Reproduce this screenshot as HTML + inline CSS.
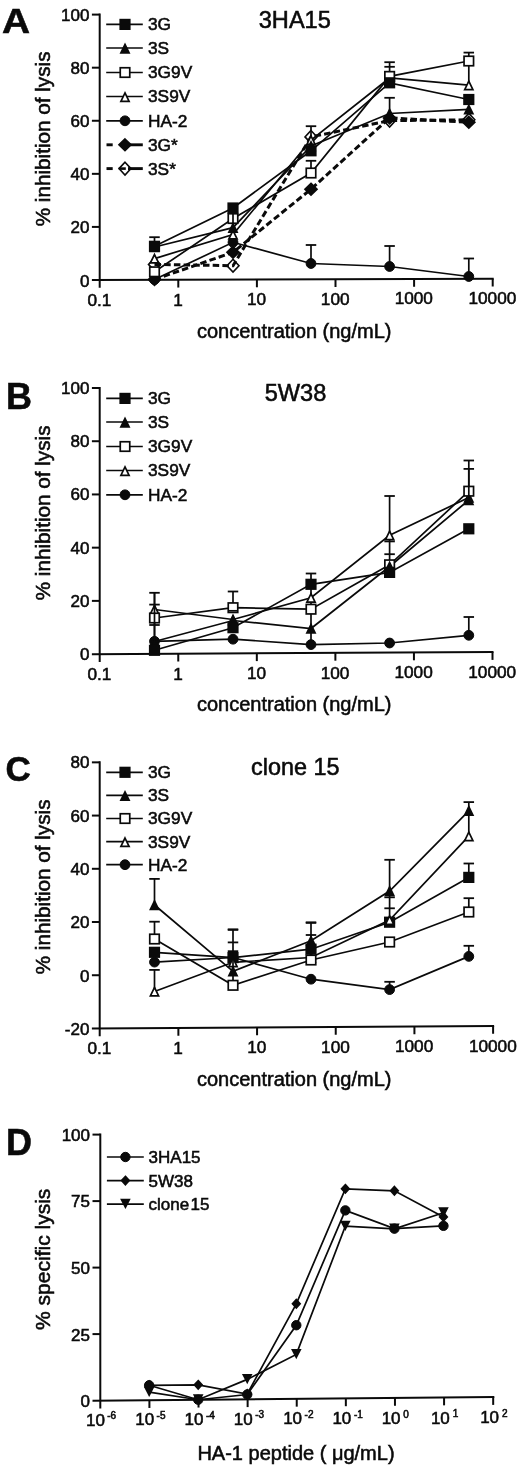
<!DOCTYPE html>
<html><head><meta charset="utf-8"><title>Figure</title>
<style>
html,body{margin:0;padding:0;background:#fff;}
body{width:520px;height:1467px;overflow:hidden;font-family:"Liberation Sans", sans-serif;}
svg text{font-variant-ligatures:none;font-family:"Liberation Sans", sans-serif;stroke:#0a0a0a;stroke-width:0.55px;}
</style></head><body>
<svg width="520" height="1467" viewBox="0 0 520 1467" font-family='"Liberation Sans", sans-serif' fill="#0a0a0a" style="display:block;filter:blur(0.45px)">
<rect width="520" height="1467" fill="#fff"/>
<g id="pA"><line x1="99.7" y1="13.60" x2="99.7" y2="287.80" stroke="#0a0a0a" stroke-width="2.0"/><line x1="91.90" y1="280.03" x2="493.70" y2="278.70" stroke="#0a0a0a" stroke-width="2.0"/><text x="89.40" y="286.70" font-size="17" text-anchor="end" font-weight="normal" >0</text><line x1="91.90" y1="226.92" x2="99.7" y2="226.92" stroke="#0a0a0a" stroke-width="2.0"/><text x="89.40" y="233.46" font-size="17" text-anchor="end" font-weight="normal" >20</text><line x1="91.90" y1="173.84" x2="99.7" y2="173.84" stroke="#0a0a0a" stroke-width="2.0"/><text x="89.40" y="180.22" font-size="17" text-anchor="end" font-weight="normal" >40</text><line x1="91.90" y1="120.76" x2="99.7" y2="120.76" stroke="#0a0a0a" stroke-width="2.0"/><text x="89.40" y="126.98" font-size="17" text-anchor="end" font-weight="normal" >60</text><line x1="91.90" y1="67.68" x2="99.7" y2="67.68" stroke="#0a0a0a" stroke-width="2.0"/><text x="89.40" y="73.74" font-size="17" text-anchor="end" font-weight="normal" >80</text><line x1="91.90" y1="14.60" x2="99.7" y2="14.60" stroke="#0a0a0a" stroke-width="2.0"/><text x="89.40" y="20.50" font-size="17" text-anchor="end" font-weight="normal" >100</text><text x="99.40" y="306.10" font-size="17.2" text-anchor="middle" font-weight="normal" >0.1</text><line x1="178.30" y1="279.74" x2="178.30" y2="287.54" stroke="#0a0a0a" stroke-width="2.0"/><text x="178.00" y="305.67" font-size="17.2" text-anchor="middle" font-weight="normal" >1</text><line x1="256.90" y1="279.48" x2="256.90" y2="287.28" stroke="#0a0a0a" stroke-width="2.0"/><text x="256.60" y="305.24" font-size="17.2" text-anchor="middle" font-weight="normal" >10</text><line x1="335.50" y1="279.22" x2="335.50" y2="287.02" stroke="#0a0a0a" stroke-width="2.0"/><text x="335.20" y="304.80" font-size="17.2" text-anchor="middle" font-weight="normal" >100</text><line x1="414.10" y1="278.96" x2="414.10" y2="286.76" stroke="#0a0a0a" stroke-width="2.0"/><text x="413.80" y="304.37" font-size="17.2" text-anchor="middle" font-weight="normal" >1000</text><line x1="492.70" y1="278.70" x2="492.70" y2="286.50" stroke="#0a0a0a" stroke-width="2.0"/><text x="492.40" y="303.94" font-size="17.2" text-anchor="middle" font-weight="normal" >10000</text><line x1="154.50" y1="245.60" x2="154.50" y2="237.20" stroke="#0a0a0a" stroke-width="1.7"/><line x1="149.25" y1="237.20" x2="159.75" y2="237.20" stroke="#0a0a0a" stroke-width="1.8"/><line x1="311.00" y1="140.00" x2="311.00" y2="126.20" stroke="#0a0a0a" stroke-width="1.7"/><line x1="305.75" y1="126.20" x2="316.25" y2="126.20" stroke="#0a0a0a" stroke-width="1.8"/><line x1="311.00" y1="173.00" x2="311.00" y2="160.80" stroke="#0a0a0a" stroke-width="1.7"/><line x1="305.75" y1="160.80" x2="316.25" y2="160.80" stroke="#0a0a0a" stroke-width="1.8"/><line x1="389.60" y1="82.50" x2="389.60" y2="62.20" stroke="#0a0a0a" stroke-width="1.7"/><line x1="384.35" y1="62.20" x2="394.85" y2="62.20" stroke="#0a0a0a" stroke-width="1.8"/><line x1="384.35" y1="66.80" x2="394.85" y2="66.80" stroke="#0a0a0a" stroke-width="1.8"/><line x1="389.60" y1="113.50" x2="389.60" y2="97.80" stroke="#0a0a0a" stroke-width="1.7"/><line x1="384.35" y1="97.80" x2="394.85" y2="97.80" stroke="#0a0a0a" stroke-width="1.8"/><line x1="468.80" y1="85.20" x2="468.80" y2="52.60" stroke="#0a0a0a" stroke-width="1.7"/><line x1="463.55" y1="52.60" x2="474.05" y2="52.60" stroke="#0a0a0a" stroke-width="1.8"/><line x1="311.00" y1="263.50" x2="311.00" y2="245.00" stroke="#0a0a0a" stroke-width="1.7"/><line x1="305.75" y1="245.00" x2="316.25" y2="245.00" stroke="#0a0a0a" stroke-width="1.8"/><line x1="389.60" y1="266.50" x2="389.60" y2="246.00" stroke="#0a0a0a" stroke-width="1.7"/><line x1="384.35" y1="246.00" x2="394.85" y2="246.00" stroke="#0a0a0a" stroke-width="1.8"/><line x1="468.80" y1="276.50" x2="468.80" y2="258.50" stroke="#0a0a0a" stroke-width="1.7"/><line x1="463.55" y1="258.50" x2="474.05" y2="258.50" stroke="#0a0a0a" stroke-width="1.8"/><polyline points="154.50,264.40 233.00,265.70 311.00,136.90 389.60,120.60 468.80,119.80" fill="none" stroke="#0a0a0a" stroke-width="3.0" stroke-dasharray="6.5 3.2"/><polyline points="154.50,279.50 233.00,252.30 311.00,189.20 389.60,117.90 468.80,122.30" fill="none" stroke="#0a0a0a" stroke-width="3.0" stroke-dasharray="6.5 3.2"/><polyline points="154.50,279.60 233.00,242.30 311.00,263.50 389.60,266.50 468.80,276.50" fill="none" stroke="#0a0a0a" stroke-width="1.7"/><polyline points="154.50,258.60 233.00,234.60 311.00,140.00 389.60,78.00 468.80,85.20" fill="none" stroke="#0a0a0a" stroke-width="1.7"/><polyline points="154.50,271.80 233.00,218.50 311.00,173.00 389.60,76.40 468.80,61.00" fill="none" stroke="#0a0a0a" stroke-width="1.7"/><polyline points="154.50,247.00 233.00,227.70 311.00,146.00 389.60,113.50 468.80,109.40" fill="none" stroke="#0a0a0a" stroke-width="1.7"/><polyline points="154.50,246.30 233.00,208.00 311.00,150.80 389.60,82.80 468.80,99.50" fill="none" stroke="#0a0a0a" stroke-width="1.7"/><polygon points="154.50,258.00 160.50,264.40 154.50,270.80 148.50,264.40" fill="none" stroke="#0a0a0a" stroke-width="1.6"/><polygon points="233.00,259.30 239.00,265.70 233.00,272.10 227.00,265.70" fill="none" stroke="#0a0a0a" stroke-width="1.6"/><polygon points="311.00,130.50 317.00,136.90 311.00,143.30 305.00,136.90" fill="none" stroke="#0a0a0a" stroke-width="1.6"/><polygon points="389.60,114.20 395.60,120.60 389.60,127.00 383.60,120.60" fill="none" stroke="#0a0a0a" stroke-width="1.6"/><polygon points="468.80,113.40 474.80,119.80 468.80,126.20 462.80,119.80" fill="none" stroke="#0a0a0a" stroke-width="1.6"/><polygon points="154.50,273.70 160.50,279.50 154.50,285.30 148.50,279.50" fill="#0a0a0a" stroke="#0a0a0a" stroke-width="1.7"/><polygon points="233.00,246.50 239.00,252.30 233.00,258.10 227.00,252.30" fill="#0a0a0a" stroke="#0a0a0a" stroke-width="1.7"/><polygon points="311.00,183.40 317.00,189.20 311.00,195.00 305.00,189.20" fill="#0a0a0a" stroke="#0a0a0a" stroke-width="1.7"/><polygon points="389.60,112.10 395.60,117.90 389.60,123.70 383.60,117.90" fill="#0a0a0a" stroke="#0a0a0a" stroke-width="1.7"/><polygon points="468.80,116.50 474.80,122.30 468.80,128.10 462.80,122.30" fill="#0a0a0a" stroke="#0a0a0a" stroke-width="1.7"/><circle cx="154.50" cy="279.60" r="4.9" fill="#0a0a0a" stroke="#0a0a0a" stroke-width="1"/><circle cx="233.00" cy="242.30" r="4.9" fill="#0a0a0a" stroke="#0a0a0a" stroke-width="1"/><circle cx="311.00" cy="263.50" r="4.9" fill="#0a0a0a" stroke="#0a0a0a" stroke-width="1"/><circle cx="389.60" cy="266.50" r="4.9" fill="#0a0a0a" stroke="#0a0a0a" stroke-width="1"/><circle cx="468.80" cy="276.50" r="4.9" fill="#0a0a0a" stroke="#0a0a0a" stroke-width="1"/><polygon points="154.50,254.54 158.60,262.94 150.40,262.94" fill="#fff" stroke="#0a0a0a" stroke-width="1.7" stroke-linejoin="miter"/><polygon points="233.00,230.54 237.10,238.94 228.90,238.94" fill="#fff" stroke="#0a0a0a" stroke-width="1.7" stroke-linejoin="miter"/><polygon points="311.00,135.94 315.10,144.34 306.90,144.34" fill="#fff" stroke="#0a0a0a" stroke-width="1.7" stroke-linejoin="miter"/><polygon points="389.60,73.94 393.70,82.34 385.50,82.34" fill="#fff" stroke="#0a0a0a" stroke-width="1.7" stroke-linejoin="miter"/><polygon points="468.80,81.14 472.90,89.54 464.70,89.54" fill="#fff" stroke="#0a0a0a" stroke-width="1.7" stroke-linejoin="miter"/><rect x="149.75" y="267.05" width="9.50" height="9.50" fill="#fff" stroke="#0a0a0a" stroke-width="1.7"/><rect x="228.25" y="213.75" width="9.50" height="9.50" fill="#fff" stroke="#0a0a0a" stroke-width="1.7"/><rect x="306.25" y="168.25" width="9.50" height="9.50" fill="#fff" stroke="#0a0a0a" stroke-width="1.7"/><rect x="384.85" y="71.65" width="9.50" height="9.50" fill="#fff" stroke="#0a0a0a" stroke-width="1.7"/><rect x="464.05" y="56.25" width="9.50" height="9.50" fill="#fff" stroke="#0a0a0a" stroke-width="1.7"/><polygon points="154.50,242.94 158.60,251.34 150.40,251.34" fill="#0a0a0a" stroke="#0a0a0a" stroke-width="1.7" stroke-linejoin="miter"/><polygon points="233.00,223.64 237.10,232.04 228.90,232.04" fill="#0a0a0a" stroke="#0a0a0a" stroke-width="1.7" stroke-linejoin="miter"/><polygon points="311.00,141.94 315.10,150.34 306.90,150.34" fill="#0a0a0a" stroke="#0a0a0a" stroke-width="1.7" stroke-linejoin="miter"/><polygon points="389.60,109.44 393.70,117.84 385.50,117.84" fill="#0a0a0a" stroke="#0a0a0a" stroke-width="1.7" stroke-linejoin="miter"/><polygon points="468.80,105.34 472.90,113.74 464.70,113.74" fill="#0a0a0a" stroke="#0a0a0a" stroke-width="1.7" stroke-linejoin="miter"/><rect x="149.75" y="241.55" width="9.50" height="9.50" fill="#0a0a0a" stroke="#0a0a0a" stroke-width="1.7"/><rect x="228.25" y="203.25" width="9.50" height="9.50" fill="#0a0a0a" stroke="#0a0a0a" stroke-width="1.7"/><rect x="306.25" y="146.05" width="9.50" height="9.50" fill="#0a0a0a" stroke="#0a0a0a" stroke-width="1.7"/><rect x="384.85" y="78.05" width="9.50" height="9.50" fill="#0a0a0a" stroke="#0a0a0a" stroke-width="1.7"/><rect x="464.05" y="94.75" width="9.50" height="9.50" fill="#0a0a0a" stroke="#0a0a0a" stroke-width="1.7"/><line x1="233.00" y1="214.00" x2="233.00" y2="223.00" stroke="#0a0a0a" stroke-width="1.7"/><line x1="106.2" y1="24.4" x2="142.8" y2="24.4" stroke="#0a0a0a" stroke-width="1.7"/><rect x="120.25" y="19.65" width="9.50" height="9.50" fill="#0a0a0a" stroke="#0a0a0a" stroke-width="1.7"/><text x="148.00" y="30.30" font-size="17.3" text-anchor="start" font-weight="normal" >3G</text><line x1="106.2" y1="48.0" x2="142.8" y2="48.0" stroke="#0a0a0a" stroke-width="1.7"/><polygon points="125.00,44.44 129.10,52.84 120.90,52.84" fill="#0a0a0a" stroke="#0a0a0a" stroke-width="1.7" stroke-linejoin="miter"/><text x="148.00" y="53.90" font-size="17.3" text-anchor="start" font-weight="normal" >3S</text><line x1="106.2" y1="72.5" x2="142.8" y2="72.5" stroke="#0a0a0a" stroke-width="1.7"/><rect x="120.25" y="67.75" width="9.50" height="9.50" fill="#fff" stroke="#0a0a0a" stroke-width="1.7"/><text x="148.00" y="78.40" font-size="17.3" text-anchor="start" font-weight="normal" >3G9V</text><line x1="106.2" y1="96.5" x2="142.8" y2="96.5" stroke="#0a0a0a" stroke-width="1.7"/><polygon points="125.00,92.94 129.10,101.34 120.90,101.34" fill="#fff" stroke="#0a0a0a" stroke-width="1.7" stroke-linejoin="miter"/><text x="148.00" y="102.40" font-size="17.3" text-anchor="start" font-weight="normal" >3S9V</text><line x1="106.2" y1="120.8" x2="142.8" y2="120.8" stroke="#0a0a0a" stroke-width="1.7"/><circle cx="125.00" cy="120.80" r="4.9" fill="#0a0a0a" stroke="#0a0a0a" stroke-width="1"/><text x="148.00" y="126.70" font-size="17.3" text-anchor="start" font-weight="normal" >HA-2</text><line x1="106.5" y1="144.8" x2="112.7" y2="144.8" stroke="#0a0a0a" stroke-width="2.9"/><line x1="128" y1="144.8" x2="142.8" y2="144.8" stroke="#0a0a0a" stroke-width="2.9"/><polygon points="125.00,139.00 131.00,144.80 125.00,150.60 119.00,144.80" fill="#0a0a0a" stroke="#0a0a0a" stroke-width="1.7"/><text x="148.00" y="150.70" font-size="17.3" text-anchor="start" font-weight="normal" >3G*</text><line x1="106.5" y1="168.6" x2="112.7" y2="168.6" stroke="#0a0a0a" stroke-width="2.9"/><line x1="128" y1="168.6" x2="142.8" y2="168.6" stroke="#0a0a0a" stroke-width="2.9"/><polygon points="125.00,162.20 131.00,168.60 125.00,175.00 119.00,168.60" fill="none" stroke="#0a0a0a" stroke-width="1.6"/><line x1="118.8" y1="168.6" x2="125.8" y2="168.6" stroke="#0a0a0a" stroke-width="2.6"/><text x="148.00" y="174.50" font-size="17.3" text-anchor="start" font-weight="normal" >3S*</text><text transform="translate(1.9,33.2) scale(1.08,1)" font-size="36" font-weight="bold">A</text><text x="294.80" y="27.60" font-size="23.6" text-anchor="middle" font-weight="normal" >3HA15</text><text x="294.20" y="338.00" font-size="20" text-anchor="middle" font-weight="normal" >concentration (ng/mL)</text><text transform="translate(49.9,138.9) rotate(-90)" font-size="20.7" text-anchor="middle">% inhibition of lysis</text></g>
<g id="pB"><line x1="99.7" y1="387.00" x2="99.7" y2="661.90" stroke="#0a0a0a" stroke-width="2.0"/><line x1="91.90" y1="654.14" x2="493.50" y2="652.10" stroke="#0a0a0a" stroke-width="2.0"/><text x="89.40" y="660.40" font-size="17" text-anchor="end" font-weight="normal" >0</text><line x1="91.90" y1="600.88" x2="99.7" y2="600.88" stroke="#0a0a0a" stroke-width="2.0"/><text x="89.40" y="607.02" font-size="17" text-anchor="end" font-weight="normal" >20</text><line x1="91.90" y1="547.66" x2="99.7" y2="547.66" stroke="#0a0a0a" stroke-width="2.0"/><text x="89.40" y="553.64" font-size="17" text-anchor="end" font-weight="normal" >40</text><line x1="91.90" y1="494.44" x2="99.7" y2="494.44" stroke="#0a0a0a" stroke-width="2.0"/><text x="89.40" y="500.26" font-size="17" text-anchor="end" font-weight="normal" >60</text><line x1="91.90" y1="441.22" x2="99.7" y2="441.22" stroke="#0a0a0a" stroke-width="2.0"/><text x="89.40" y="446.88" font-size="17" text-anchor="end" font-weight="normal" >80</text><line x1="91.90" y1="388.00" x2="99.7" y2="388.00" stroke="#0a0a0a" stroke-width="2.0"/><text x="89.40" y="393.50" font-size="17" text-anchor="end" font-weight="normal" >100</text><text x="99.40" y="680.20" font-size="17.2" text-anchor="middle" font-weight="normal" >0.1</text><line x1="178.26" y1="653.70" x2="178.26" y2="661.50" stroke="#0a0a0a" stroke-width="2.0"/><text x="177.96" y="679.77" font-size="17.2" text-anchor="middle" font-weight="normal" >1</text><line x1="256.82" y1="653.30" x2="256.82" y2="661.10" stroke="#0a0a0a" stroke-width="2.0"/><text x="256.52" y="679.34" font-size="17.2" text-anchor="middle" font-weight="normal" >10</text><line x1="335.38" y1="652.90" x2="335.38" y2="660.70" stroke="#0a0a0a" stroke-width="2.0"/><text x="335.08" y="678.90" font-size="17.2" text-anchor="middle" font-weight="normal" >100</text><line x1="413.94" y1="652.50" x2="413.94" y2="660.30" stroke="#0a0a0a" stroke-width="2.0"/><text x="413.64" y="678.47" font-size="17.2" text-anchor="middle" font-weight="normal" >1000</text><line x1="492.50" y1="652.10" x2="492.50" y2="659.90" stroke="#0a0a0a" stroke-width="2.0"/><text x="492.20" y="678.04" font-size="17.2" text-anchor="middle" font-weight="normal" >10000</text><line x1="154.50" y1="641.00" x2="154.50" y2="592.80" stroke="#0a0a0a" stroke-width="1.7"/><line x1="149.25" y1="592.80" x2="159.75" y2="592.80" stroke="#0a0a0a" stroke-width="1.8"/><line x1="149.25" y1="604.60" x2="159.75" y2="604.60" stroke="#0a0a0a" stroke-width="1.8"/><line x1="149.25" y1="625.00" x2="159.75" y2="625.00" stroke="#0a0a0a" stroke-width="1.8"/><line x1="233.00" y1="607.70" x2="233.00" y2="591.50" stroke="#0a0a0a" stroke-width="1.7"/><line x1="227.75" y1="591.50" x2="238.25" y2="591.50" stroke="#0a0a0a" stroke-width="1.8"/><line x1="311.00" y1="644.60" x2="311.00" y2="573.50" stroke="#0a0a0a" stroke-width="1.7"/><line x1="305.75" y1="573.50" x2="316.25" y2="573.50" stroke="#0a0a0a" stroke-width="1.8"/><line x1="389.60" y1="568.00" x2="389.60" y2="496.00" stroke="#0a0a0a" stroke-width="1.7"/><line x1="384.35" y1="496.00" x2="394.85" y2="496.00" stroke="#0a0a0a" stroke-width="1.8"/><line x1="384.35" y1="541.40" x2="394.85" y2="541.40" stroke="#0a0a0a" stroke-width="1.8"/><line x1="384.35" y1="554.20" x2="394.85" y2="554.20" stroke="#0a0a0a" stroke-width="1.8"/><line x1="468.80" y1="500.00" x2="468.80" y2="460.50" stroke="#0a0a0a" stroke-width="1.7"/><line x1="463.55" y1="460.50" x2="474.05" y2="460.50" stroke="#0a0a0a" stroke-width="1.8"/><line x1="463.55" y1="468.90" x2="474.05" y2="468.90" stroke="#0a0a0a" stroke-width="1.8"/><line x1="468.80" y1="635.30" x2="468.80" y2="617.00" stroke="#0a0a0a" stroke-width="1.7"/><line x1="463.55" y1="617.00" x2="474.05" y2="617.00" stroke="#0a0a0a" stroke-width="1.8"/><polyline points="154.50,641.30 233.00,639.20 311.00,644.60 389.60,643.00 468.80,635.30" fill="none" stroke="#0a0a0a" stroke-width="1.7"/><polyline points="154.50,609.50 233.00,619.50 311.00,597.70 389.60,535.30 468.80,497.50" fill="none" stroke="#0a0a0a" stroke-width="1.7"/><polyline points="154.50,618.00 233.00,607.70 311.00,609.20 389.60,564.80 468.80,491.20" fill="none" stroke="#0a0a0a" stroke-width="1.7"/><polyline points="154.50,641.50 233.00,620.50 311.00,628.50 389.60,566.50 468.80,500.00" fill="none" stroke="#0a0a0a" stroke-width="1.7"/><polyline points="154.50,650.30 233.00,627.70 311.00,584.30 389.60,572.40 468.80,528.80" fill="none" stroke="#0a0a0a" stroke-width="1.7"/><circle cx="154.50" cy="641.30" r="4.9" fill="#0a0a0a" stroke="#0a0a0a" stroke-width="1"/><circle cx="233.00" cy="639.20" r="4.9" fill="#0a0a0a" stroke="#0a0a0a" stroke-width="1"/><circle cx="311.00" cy="644.60" r="4.9" fill="#0a0a0a" stroke="#0a0a0a" stroke-width="1"/><circle cx="389.60" cy="643.00" r="4.9" fill="#0a0a0a" stroke="#0a0a0a" stroke-width="1"/><circle cx="468.80" cy="635.30" r="4.9" fill="#0a0a0a" stroke="#0a0a0a" stroke-width="1"/><polygon points="154.50,605.44 158.60,613.84 150.40,613.84" fill="#fff" stroke="#0a0a0a" stroke-width="1.7" stroke-linejoin="miter"/><polygon points="233.00,615.44 237.10,623.84 228.90,623.84" fill="#fff" stroke="#0a0a0a" stroke-width="1.7" stroke-linejoin="miter"/><polygon points="311.00,593.64 315.10,602.04 306.90,602.04" fill="#fff" stroke="#0a0a0a" stroke-width="1.7" stroke-linejoin="miter"/><polygon points="389.60,531.24 393.70,539.64 385.50,539.64" fill="#fff" stroke="#0a0a0a" stroke-width="1.7" stroke-linejoin="miter"/><polygon points="468.80,493.44 472.90,501.84 464.70,501.84" fill="#fff" stroke="#0a0a0a" stroke-width="1.7" stroke-linejoin="miter"/><rect x="149.75" y="613.25" width="9.50" height="9.50" fill="#fff" stroke="#0a0a0a" stroke-width="1.7"/><rect x="228.25" y="602.95" width="9.50" height="9.50" fill="#fff" stroke="#0a0a0a" stroke-width="1.7"/><rect x="306.25" y="604.45" width="9.50" height="9.50" fill="#fff" stroke="#0a0a0a" stroke-width="1.7"/><rect x="384.85" y="560.05" width="9.50" height="9.50" fill="#fff" stroke="#0a0a0a" stroke-width="1.7"/><rect x="464.05" y="486.45" width="9.50" height="9.50" fill="#fff" stroke="#0a0a0a" stroke-width="1.7"/><polygon points="154.50,637.44 158.60,645.84 150.40,645.84" fill="#0a0a0a" stroke="#0a0a0a" stroke-width="1.7" stroke-linejoin="miter"/><polygon points="233.00,616.44 237.10,624.84 228.90,624.84" fill="#0a0a0a" stroke="#0a0a0a" stroke-width="1.7" stroke-linejoin="miter"/><polygon points="311.00,624.44 315.10,632.84 306.90,632.84" fill="#0a0a0a" stroke="#0a0a0a" stroke-width="1.7" stroke-linejoin="miter"/><polygon points="389.60,562.44 393.70,570.84 385.50,570.84" fill="#0a0a0a" stroke="#0a0a0a" stroke-width="1.7" stroke-linejoin="miter"/><polygon points="468.80,495.94 472.90,504.34 464.70,504.34" fill="#0a0a0a" stroke="#0a0a0a" stroke-width="1.7" stroke-linejoin="miter"/><rect x="149.75" y="645.55" width="9.50" height="9.50" fill="#0a0a0a" stroke="#0a0a0a" stroke-width="1.7"/><rect x="228.25" y="622.95" width="9.50" height="9.50" fill="#0a0a0a" stroke="#0a0a0a" stroke-width="1.7"/><rect x="306.25" y="579.55" width="9.50" height="9.50" fill="#0a0a0a" stroke="#0a0a0a" stroke-width="1.7"/><rect x="384.85" y="567.65" width="9.50" height="9.50" fill="#0a0a0a" stroke="#0a0a0a" stroke-width="1.7"/><rect x="464.05" y="524.05" width="9.50" height="9.50" fill="#0a0a0a" stroke="#0a0a0a" stroke-width="1.7"/><line x1="154.50" y1="592.50" x2="154.50" y2="641.00" stroke="#0a0a0a" stroke-width="1.7"/><line x1="228.00" y1="610.80" x2="238.00" y2="610.80" stroke="#0a0a0a" stroke-width="1.7"/><line x1="468.80" y1="468.90" x2="468.80" y2="497.00" stroke="#0a0a0a" stroke-width="1.7"/><line x1="106.2" y1="398.4" x2="142.8" y2="398.4" stroke="#0a0a0a" stroke-width="1.7"/><rect x="120.25" y="393.65" width="9.50" height="9.50" fill="#0a0a0a" stroke="#0a0a0a" stroke-width="1.7"/><text x="148.00" y="404.30" font-size="17.3" text-anchor="start" font-weight="normal" >3G</text><line x1="106.2" y1="422.0" x2="142.8" y2="422.0" stroke="#0a0a0a" stroke-width="1.7"/><polygon points="125.00,418.44 129.10,426.84 120.90,426.84" fill="#0a0a0a" stroke="#0a0a0a" stroke-width="1.7" stroke-linejoin="miter"/><text x="148.00" y="427.90" font-size="17.3" text-anchor="start" font-weight="normal" >3S</text><line x1="106.2" y1="446.5" x2="142.8" y2="446.5" stroke="#0a0a0a" stroke-width="1.7"/><rect x="120.25" y="441.75" width="9.50" height="9.50" fill="#fff" stroke="#0a0a0a" stroke-width="1.7"/><text x="148.00" y="452.40" font-size="17.3" text-anchor="start" font-weight="normal" >3G9V</text><line x1="106.2" y1="470.5" x2="142.8" y2="470.5" stroke="#0a0a0a" stroke-width="1.7"/><polygon points="125.00,466.94 129.10,475.34 120.90,475.34" fill="#fff" stroke="#0a0a0a" stroke-width="1.7" stroke-linejoin="miter"/><text x="148.00" y="476.40" font-size="17.3" text-anchor="start" font-weight="normal" >3S9V</text><line x1="106.2" y1="494.8" x2="142.8" y2="494.8" stroke="#0a0a0a" stroke-width="1.7"/><circle cx="125.00" cy="494.80" r="4.9" fill="#0a0a0a" stroke="#0a0a0a" stroke-width="1"/><text x="148.00" y="500.70" font-size="17.3" text-anchor="start" font-weight="normal" >HA-2</text><text x="6.10" y="408.50" font-size="36" text-anchor="start" font-weight="bold" >B</text><text x="295.50" y="400.60" font-size="23.6" text-anchor="middle" font-weight="normal" >5W38</text><text x="294.20" y="711.30" font-size="20" text-anchor="middle" font-weight="normal" >concentration (ng/mL)</text><text transform="translate(49.9,512.9) rotate(-90)" font-size="20.7" text-anchor="middle">% inhibition of lysis</text></g>
<g id="pC"><line x1="99.7" y1="761.35" x2="99.7" y2="1036.25" stroke="#0a0a0a" stroke-width="2.0"/><line x1="91.90" y1="1028.50" x2="494.10" y2="1025.95" stroke="#0a0a0a" stroke-width="2.0"/><text x="89.40" y="1035.15" font-size="17" text-anchor="end" font-weight="normal" >-20</text><line x1="91.90" y1="975.23" x2="99.7" y2="975.23" stroke="#0a0a0a" stroke-width="2.0"/><text x="89.40" y="981.77" font-size="17" text-anchor="end" font-weight="normal" >0</text><line x1="91.90" y1="922.01" x2="99.7" y2="922.01" stroke="#0a0a0a" stroke-width="2.0"/><text x="89.40" y="928.39" font-size="17" text-anchor="end" font-weight="normal" >20</text><line x1="91.90" y1="868.79" x2="99.7" y2="868.79" stroke="#0a0a0a" stroke-width="2.0"/><text x="89.40" y="875.01" font-size="17" text-anchor="end" font-weight="normal" >40</text><line x1="91.90" y1="815.57" x2="99.7" y2="815.57" stroke="#0a0a0a" stroke-width="2.0"/><text x="89.40" y="821.63" font-size="17" text-anchor="end" font-weight="normal" >60</text><line x1="91.90" y1="762.35" x2="99.7" y2="762.35" stroke="#0a0a0a" stroke-width="2.0"/><text x="89.40" y="768.25" font-size="17" text-anchor="end" font-weight="normal" >80</text><text x="99.40" y="1054.15" font-size="17.2" text-anchor="middle" font-weight="normal" >0.1</text><line x1="178.38" y1="1027.95" x2="178.38" y2="1035.75" stroke="#0a0a0a" stroke-width="2.0"/><text x="178.08" y="1053.72" font-size="17.2" text-anchor="middle" font-weight="normal" >1</text><line x1="257.06" y1="1027.45" x2="257.06" y2="1035.25" stroke="#0a0a0a" stroke-width="2.0"/><text x="256.76" y="1053.28" font-size="17.2" text-anchor="middle" font-weight="normal" >10</text><line x1="335.74" y1="1026.95" x2="335.74" y2="1034.75" stroke="#0a0a0a" stroke-width="2.0"/><text x="335.44" y="1052.85" font-size="17.2" text-anchor="middle" font-weight="normal" >100</text><line x1="414.42" y1="1026.45" x2="414.42" y2="1034.25" stroke="#0a0a0a" stroke-width="2.0"/><text x="414.12" y="1052.42" font-size="17.2" text-anchor="middle" font-weight="normal" >1000</text><line x1="493.10" y1="1025.95" x2="493.10" y2="1033.75" stroke="#0a0a0a" stroke-width="2.0"/><text x="492.80" y="1051.99" font-size="17.2" text-anchor="middle" font-weight="normal" >10000</text><line x1="154.50" y1="904.40" x2="154.50" y2="878.90" stroke="#0a0a0a" stroke-width="1.7"/><line x1="149.25" y1="878.90" x2="159.75" y2="878.90" stroke="#0a0a0a" stroke-width="1.8"/><line x1="154.50" y1="939.00" x2="154.50" y2="921.70" stroke="#0a0a0a" stroke-width="1.7"/><line x1="149.25" y1="921.70" x2="159.75" y2="921.70" stroke="#0a0a0a" stroke-width="1.8"/><line x1="154.50" y1="991.50" x2="154.50" y2="969.90" stroke="#0a0a0a" stroke-width="1.7"/><line x1="149.25" y1="969.90" x2="159.75" y2="969.90" stroke="#0a0a0a" stroke-width="1.8"/><line x1="233.00" y1="985.30" x2="233.00" y2="929.30" stroke="#0a0a0a" stroke-width="1.7"/><line x1="227.75" y1="929.30" x2="238.25" y2="929.30" stroke="#0a0a0a" stroke-width="1.8"/><line x1="227.75" y1="929.90" x2="238.25" y2="929.90" stroke="#0a0a0a" stroke-width="1.8"/><line x1="227.75" y1="942.40" x2="238.25" y2="942.40" stroke="#0a0a0a" stroke-width="1.8"/><line x1="227.75" y1="951.20" x2="238.25" y2="951.20" stroke="#0a0a0a" stroke-width="1.8"/><line x1="311.00" y1="959.70" x2="311.00" y2="922.30" stroke="#0a0a0a" stroke-width="1.7"/><line x1="305.75" y1="922.30" x2="316.25" y2="922.30" stroke="#0a0a0a" stroke-width="1.8"/><line x1="305.75" y1="922.90" x2="316.25" y2="922.90" stroke="#0a0a0a" stroke-width="1.8"/><line x1="305.75" y1="935.00" x2="316.25" y2="935.00" stroke="#0a0a0a" stroke-width="1.8"/><line x1="389.60" y1="923.30" x2="389.60" y2="859.80" stroke="#0a0a0a" stroke-width="1.7"/><line x1="384.35" y1="859.80" x2="394.85" y2="859.80" stroke="#0a0a0a" stroke-width="1.8"/><line x1="384.35" y1="897.30" x2="394.85" y2="897.30" stroke="#0a0a0a" stroke-width="1.8"/><line x1="384.35" y1="908.30" x2="394.85" y2="908.30" stroke="#0a0a0a" stroke-width="1.8"/><line x1="389.60" y1="989.60" x2="389.60" y2="981.80" stroke="#0a0a0a" stroke-width="1.7"/><line x1="384.35" y1="981.80" x2="394.85" y2="981.80" stroke="#0a0a0a" stroke-width="1.8"/><line x1="468.80" y1="836.20" x2="468.80" y2="802.10" stroke="#0a0a0a" stroke-width="1.7"/><line x1="463.55" y1="802.10" x2="474.05" y2="802.10" stroke="#0a0a0a" stroke-width="1.8"/><line x1="468.80" y1="877.40" x2="468.80" y2="863.50" stroke="#0a0a0a" stroke-width="1.7"/><line x1="463.55" y1="863.50" x2="474.05" y2="863.50" stroke="#0a0a0a" stroke-width="1.8"/><line x1="468.80" y1="912.00" x2="468.80" y2="898.20" stroke="#0a0a0a" stroke-width="1.7"/><line x1="463.55" y1="898.20" x2="474.05" y2="898.20" stroke="#0a0a0a" stroke-width="1.8"/><line x1="468.80" y1="956.40" x2="468.80" y2="945.80" stroke="#0a0a0a" stroke-width="1.7"/><line x1="463.55" y1="945.80" x2="474.05" y2="945.80" stroke="#0a0a0a" stroke-width="1.8"/><polyline points="154.50,962.10 233.00,957.50 311.00,979.20 389.60,989.60 468.80,956.40" fill="none" stroke="#0a0a0a" stroke-width="1.7"/><polyline points="154.50,952.30 233.00,957.60 311.00,949.20 389.60,922.20 468.80,877.40" fill="none" stroke="#0a0a0a" stroke-width="1.7"/><polyline points="154.50,905.00 233.00,971.30 311.00,940.80 389.60,891.00 468.80,810.80" fill="none" stroke="#0a0a0a" stroke-width="1.7"/><polyline points="154.50,991.50 233.00,962.30 311.00,957.50 389.60,920.00 468.80,836.20" fill="none" stroke="#0a0a0a" stroke-width="1.7"/><polyline points="154.50,939.00 233.00,985.30 311.00,960.00 389.60,942.00 468.80,912.00" fill="none" stroke="#0a0a0a" stroke-width="1.7"/><circle cx="154.50" cy="962.10" r="4.9" fill="#0a0a0a" stroke="#0a0a0a" stroke-width="1"/><circle cx="233.00" cy="957.50" r="4.9" fill="#0a0a0a" stroke="#0a0a0a" stroke-width="1"/><circle cx="311.00" cy="979.20" r="4.9" fill="#0a0a0a" stroke="#0a0a0a" stroke-width="1"/><circle cx="389.60" cy="989.60" r="4.9" fill="#0a0a0a" stroke="#0a0a0a" stroke-width="1"/><circle cx="468.80" cy="956.40" r="4.9" fill="#0a0a0a" stroke="#0a0a0a" stroke-width="1"/><rect x="149.75" y="947.55" width="9.50" height="9.50" fill="#0a0a0a" stroke="#0a0a0a" stroke-width="1.7"/><rect x="228.25" y="952.85" width="9.50" height="9.50" fill="#0a0a0a" stroke="#0a0a0a" stroke-width="1.7"/><rect x="306.25" y="944.45" width="9.50" height="9.50" fill="#0a0a0a" stroke="#0a0a0a" stroke-width="1.7"/><rect x="384.85" y="917.45" width="9.50" height="9.50" fill="#0a0a0a" stroke="#0a0a0a" stroke-width="1.7"/><rect x="464.05" y="872.65" width="9.50" height="9.50" fill="#0a0a0a" stroke="#0a0a0a" stroke-width="1.7"/><polygon points="154.50,900.94 158.60,909.34 150.40,909.34" fill="#0a0a0a" stroke="#0a0a0a" stroke-width="1.7" stroke-linejoin="miter"/><polygon points="233.00,967.24 237.10,975.64 228.90,975.64" fill="#0a0a0a" stroke="#0a0a0a" stroke-width="1.7" stroke-linejoin="miter"/><polygon points="311.00,936.74 315.10,945.14 306.90,945.14" fill="#0a0a0a" stroke="#0a0a0a" stroke-width="1.7" stroke-linejoin="miter"/><polygon points="389.60,886.94 393.70,895.34 385.50,895.34" fill="#0a0a0a" stroke="#0a0a0a" stroke-width="1.7" stroke-linejoin="miter"/><polygon points="468.80,806.74 472.90,815.14 464.70,815.14" fill="#0a0a0a" stroke="#0a0a0a" stroke-width="1.7" stroke-linejoin="miter"/><polygon points="154.50,987.44 158.60,995.84 150.40,995.84" fill="#fff" stroke="#0a0a0a" stroke-width="1.7" stroke-linejoin="miter"/><polygon points="233.00,958.24 237.10,966.64 228.90,966.64" fill="#fff" stroke="#0a0a0a" stroke-width="1.7" stroke-linejoin="miter"/><polygon points="311.00,953.44 315.10,961.84 306.90,961.84" fill="#fff" stroke="#0a0a0a" stroke-width="1.7" stroke-linejoin="miter"/><polygon points="389.60,915.94 393.70,924.34 385.50,924.34" fill="#fff" stroke="#0a0a0a" stroke-width="1.7" stroke-linejoin="miter"/><polygon points="468.80,832.14 472.90,840.54 464.70,840.54" fill="#fff" stroke="#0a0a0a" stroke-width="1.7" stroke-linejoin="miter"/><rect x="149.75" y="934.25" width="9.50" height="9.50" fill="#fff" stroke="#0a0a0a" stroke-width="1.7"/><rect x="228.25" y="980.55" width="9.50" height="9.50" fill="#fff" stroke="#0a0a0a" stroke-width="1.7"/><rect x="306.25" y="955.25" width="9.50" height="9.50" fill="#fff" stroke="#0a0a0a" stroke-width="1.7"/><rect x="384.85" y="937.25" width="9.50" height="9.50" fill="#fff" stroke="#0a0a0a" stroke-width="1.7"/><rect x="464.05" y="907.25" width="9.50" height="9.50" fill="#fff" stroke="#0a0a0a" stroke-width="1.7"/><line x1="233.00" y1="951.20" x2="233.00" y2="967.00" stroke="#0a0a0a" stroke-width="1.7"/><line x1="106.2" y1="772.3" x2="142.8" y2="772.3" stroke="#0a0a0a" stroke-width="1.7"/><rect x="120.25" y="767.55" width="9.50" height="9.50" fill="#0a0a0a" stroke="#0a0a0a" stroke-width="1.7"/><text x="148.00" y="778.20" font-size="17.3" text-anchor="start" font-weight="normal" >3G</text><line x1="106.2" y1="795.4" x2="142.8" y2="795.4" stroke="#0a0a0a" stroke-width="1.7"/><polygon points="125.00,791.84 129.10,800.24 120.90,800.24" fill="#0a0a0a" stroke="#0a0a0a" stroke-width="1.7" stroke-linejoin="miter"/><text x="148.00" y="801.30" font-size="17.3" text-anchor="start" font-weight="normal" >3S</text><line x1="106.2" y1="818.5" x2="142.8" y2="818.5" stroke="#0a0a0a" stroke-width="1.7"/><rect x="120.25" y="813.75" width="9.50" height="9.50" fill="#fff" stroke="#0a0a0a" stroke-width="1.7"/><text x="148.00" y="824.40" font-size="17.3" text-anchor="start" font-weight="normal" >3G9V</text><line x1="106.2" y1="841.6" x2="142.8" y2="841.6" stroke="#0a0a0a" stroke-width="1.7"/><polygon points="125.00,838.04 129.10,846.44 120.90,846.44" fill="#fff" stroke="#0a0a0a" stroke-width="1.7" stroke-linejoin="miter"/><text x="148.00" y="847.50" font-size="17.3" text-anchor="start" font-weight="normal" >3S9V</text><line x1="106.2" y1="864.7" x2="142.8" y2="864.7" stroke="#0a0a0a" stroke-width="1.7"/><circle cx="125.00" cy="864.70" r="4.9" fill="#0a0a0a" stroke="#0a0a0a" stroke-width="1"/><text x="148.00" y="870.60" font-size="17.3" text-anchor="start" font-weight="normal" >HA-2</text><text x="5.60" y="780.80" font-size="35" text-anchor="start" font-weight="bold" >C</text><text x="295.30" y="774.80" font-size="23.4" text-anchor="middle" font-weight="normal" >clone 15</text><text x="294.20" y="1085.90" font-size="20" text-anchor="middle" font-weight="normal" >concentration (ng/mL)</text><text transform="translate(49.9,886.9) rotate(-90)" font-size="20.7" text-anchor="middle">% inhibition of lysis</text></g>
<g id="pD"><line x1="100.3" y1="1133.60" x2="100.3" y2="1408.40" stroke="#0a0a0a" stroke-width="2.0"/><line x1="92.50" y1="1400.67" x2="494.30" y2="1397.10" stroke="#0a0a0a" stroke-width="2.0"/><text x="90.00" y="1407.30" font-size="17" text-anchor="end" font-weight="normal" >0</text><line x1="92.50" y1="1334.10" x2="100.3" y2="1334.10" stroke="#0a0a0a" stroke-width="2.0"/><text x="90.00" y="1340.60" font-size="17" text-anchor="end" font-weight="normal" >25</text><line x1="92.50" y1="1267.60" x2="100.3" y2="1267.60" stroke="#0a0a0a" stroke-width="2.0"/><text x="90.00" y="1273.90" font-size="17" text-anchor="end" font-weight="normal" >50</text><line x1="92.50" y1="1201.10" x2="100.3" y2="1201.10" stroke="#0a0a0a" stroke-width="2.0"/><text x="90.00" y="1207.20" font-size="17" text-anchor="end" font-weight="normal" >75</text><line x1="92.50" y1="1134.60" x2="100.3" y2="1134.60" stroke="#0a0a0a" stroke-width="2.0"/><text x="90.00" y="1140.50" font-size="17" text-anchor="end" font-weight="normal" >100</text><text x="86.10" y="1425.50" font-size="17" text-anchor="start" font-weight="normal" >10</text><text x="107.20" y="1419.20" font-size="10" text-anchor="start" font-weight="normal" style="stroke-width:0.55px">-6</text><line x1="149.41" y1="1400.16" x2="149.41" y2="1407.96" stroke="#0a0a0a" stroke-width="2.0"/><text x="135.36" y="1425.23" font-size="17" text-anchor="start" font-weight="normal" >10</text><text x="156.56" y="1418.93" font-size="10" text-anchor="start" font-weight="normal" style="stroke-width:0.55px">-5</text><line x1="198.52" y1="1399.73" x2="198.52" y2="1407.53" stroke="#0a0a0a" stroke-width="2.0"/><text x="184.61" y="1424.96" font-size="17" text-anchor="start" font-weight="normal" >10</text><text x="205.91" y="1418.66" font-size="10" text-anchor="start" font-weight="normal" style="stroke-width:0.55px">-4</text><line x1="247.63" y1="1399.29" x2="247.63" y2="1407.09" stroke="#0a0a0a" stroke-width="2.0"/><text x="233.87" y="1424.69" font-size="17" text-anchor="start" font-weight="normal" >10</text><text x="255.27" y="1418.39" font-size="10" text-anchor="start" font-weight="normal" style="stroke-width:0.55px">-3</text><line x1="296.74" y1="1398.85" x2="296.74" y2="1406.65" stroke="#0a0a0a" stroke-width="2.0"/><text x="283.13" y="1424.42" font-size="17" text-anchor="start" font-weight="normal" >10</text><text x="304.62" y="1418.12" font-size="10" text-anchor="start" font-weight="normal" style="stroke-width:0.55px">-2</text><line x1="345.85" y1="1398.41" x2="345.85" y2="1406.21" stroke="#0a0a0a" stroke-width="2.0"/><text x="332.39" y="1424.15" font-size="17" text-anchor="start" font-weight="normal" >10</text><text x="353.98" y="1417.85" font-size="10" text-anchor="start" font-weight="normal" style="stroke-width:0.55px">-1</text><line x1="394.96" y1="1397.98" x2="394.96" y2="1405.78" stroke="#0a0a0a" stroke-width="2.0"/><text x="381.64" y="1423.88" font-size="17" text-anchor="start" font-weight="normal" >10</text><text x="403.33" y="1417.58" font-size="10" text-anchor="start" font-weight="normal" style="stroke-width:0.55px">0</text><line x1="444.07" y1="1397.54" x2="444.07" y2="1405.34" stroke="#0a0a0a" stroke-width="2.0"/><text x="430.90" y="1423.61" font-size="17" text-anchor="start" font-weight="normal" >10</text><text x="452.69" y="1417.31" font-size="10" text-anchor="start" font-weight="normal" style="stroke-width:0.55px">1</text><line x1="493.18" y1="1397.10" x2="493.18" y2="1404.90" stroke="#0a0a0a" stroke-width="2.0"/><text x="480.16" y="1423.34" font-size="17" text-anchor="start" font-weight="normal" >10</text><text x="502.04" y="1417.04" font-size="10" text-anchor="start" font-weight="normal" style="stroke-width:0.55px">2</text><polyline points="149.15,1392.20 198.20,1399.73 247.25,1379.39 296.30,1354.40 345.35,1226.17 394.40,1228.92 443.45,1212.69" fill="none" stroke="#0a0a0a" stroke-width="1.7"/><polyline points="149.15,1385.30 198.20,1384.87 247.25,1393.98 296.30,1303.84 345.35,1188.86 394.40,1190.81 443.45,1216.89" fill="none" stroke="#0a0a0a" stroke-width="1.7"/><polyline points="149.15,1385.30 198.20,1399.73 247.25,1394.51 296.30,1325.21 345.35,1210.41 394.40,1228.66 443.45,1225.83" fill="none" stroke="#0a0a0a" stroke-width="1.7"/><polygon points="149.15,1395.25 153.05,1387.65 145.25,1387.65" fill="#0a0a0a" stroke="#0a0a0a" stroke-width="1.7"/><polygon points="198.20,1402.78 202.10,1395.18 194.30,1395.18" fill="#0a0a0a" stroke="#0a0a0a" stroke-width="1.7"/><polygon points="247.25,1382.44 251.15,1374.84 243.35,1374.84" fill="#0a0a0a" stroke="#0a0a0a" stroke-width="1.7"/><polygon points="296.30,1357.45 300.20,1349.85 292.40,1349.85" fill="#0a0a0a" stroke="#0a0a0a" stroke-width="1.7"/><polygon points="345.35,1229.22 349.25,1221.62 341.45,1221.62" fill="#0a0a0a" stroke="#0a0a0a" stroke-width="1.7"/><polygon points="394.40,1231.97 398.30,1224.37 390.50,1224.37" fill="#0a0a0a" stroke="#0a0a0a" stroke-width="1.7"/><polygon points="443.45,1215.74 447.35,1208.14 439.55,1208.14" fill="#0a0a0a" stroke="#0a0a0a" stroke-width="1.7"/><polygon points="149.15,1381.10 152.95,1385.30 149.15,1389.50 145.35,1385.30" fill="#0a0a0a" stroke="#0a0a0a" stroke-width="1.7"/><polygon points="198.20,1380.67 202.00,1384.87 198.20,1389.07 194.40,1384.87" fill="#0a0a0a" stroke="#0a0a0a" stroke-width="1.7"/><polygon points="247.25,1389.78 251.05,1393.98 247.25,1398.18 243.45,1393.98" fill="#0a0a0a" stroke="#0a0a0a" stroke-width="1.7"/><polygon points="296.30,1299.64 300.10,1303.84 296.30,1308.04 292.50,1303.84" fill="#0a0a0a" stroke="#0a0a0a" stroke-width="1.7"/><polygon points="345.35,1184.66 349.15,1188.86 345.35,1193.06 341.55,1188.86" fill="#0a0a0a" stroke="#0a0a0a" stroke-width="1.7"/><polygon points="394.40,1186.61 398.20,1190.81 394.40,1195.01 390.60,1190.81" fill="#0a0a0a" stroke="#0a0a0a" stroke-width="1.7"/><polygon points="443.45,1212.69 447.25,1216.89 443.45,1221.09 439.65,1216.89" fill="#0a0a0a" stroke="#0a0a0a" stroke-width="1.7"/><circle cx="149.15" cy="1385.30" r="4.7" fill="#0a0a0a" stroke="#0a0a0a" stroke-width="1"/><circle cx="198.20" cy="1399.73" r="4.7" fill="#0a0a0a" stroke="#0a0a0a" stroke-width="1"/><circle cx="247.25" cy="1394.51" r="4.7" fill="#0a0a0a" stroke="#0a0a0a" stroke-width="1"/><circle cx="296.30" cy="1325.21" r="4.7" fill="#0a0a0a" stroke="#0a0a0a" stroke-width="1"/><circle cx="345.35" cy="1210.41" r="4.7" fill="#0a0a0a" stroke="#0a0a0a" stroke-width="1"/><circle cx="394.40" cy="1228.66" r="4.7" fill="#0a0a0a" stroke="#0a0a0a" stroke-width="1"/><circle cx="443.45" cy="1225.83" r="4.7" fill="#0a0a0a" stroke="#0a0a0a" stroke-width="1"/><line x1="106.9" y1="1157.0" x2="143.8" y2="1157.0" stroke="#0a0a0a" stroke-width="1.7"/><circle cx="125.40" cy="1157.00" r="4.7" fill="#0a0a0a" stroke="#0a0a0a" stroke-width="1"/><text x="148.60" y="1162.90" font-size="17.0" text-anchor="start" font-weight="normal" >3HA15</text><line x1="106.9" y1="1180.6" x2="143.8" y2="1180.6" stroke="#0a0a0a" stroke-width="1.7"/><polygon points="125.40,1176.40 129.20,1180.60 125.40,1184.80 121.60,1180.60" fill="#0a0a0a" stroke="#0a0a0a" stroke-width="1.7"/><text x="148.60" y="1186.50" font-size="17.0" text-anchor="start" font-weight="normal" >5W38</text><line x1="106.9" y1="1204.2" x2="143.8" y2="1204.2" stroke="#0a0a0a" stroke-width="1.7"/><polygon points="125.40,1207.25 129.30,1199.65 121.50,1199.65" fill="#0a0a0a" stroke="#0a0a0a" stroke-width="1.7"/><text x="148.60" y="1210.10" font-size="17.0" text-anchor="start" font-weight="normal" >clone<tspan dx="1.2">15</tspan></text><text x="5.90" y="1155.20" font-size="36" text-anchor="start" font-weight="bold" >D</text><text x="296.00" y="1459.80" font-size="20" text-anchor="middle" font-weight="normal" >HA-1 peptide ( &#956;g/mL)</text><text transform="translate(49.6,1259.3) rotate(-90)" font-size="21" text-anchor="middle">% specific lysis</text></g>
</svg>
</body></html>
